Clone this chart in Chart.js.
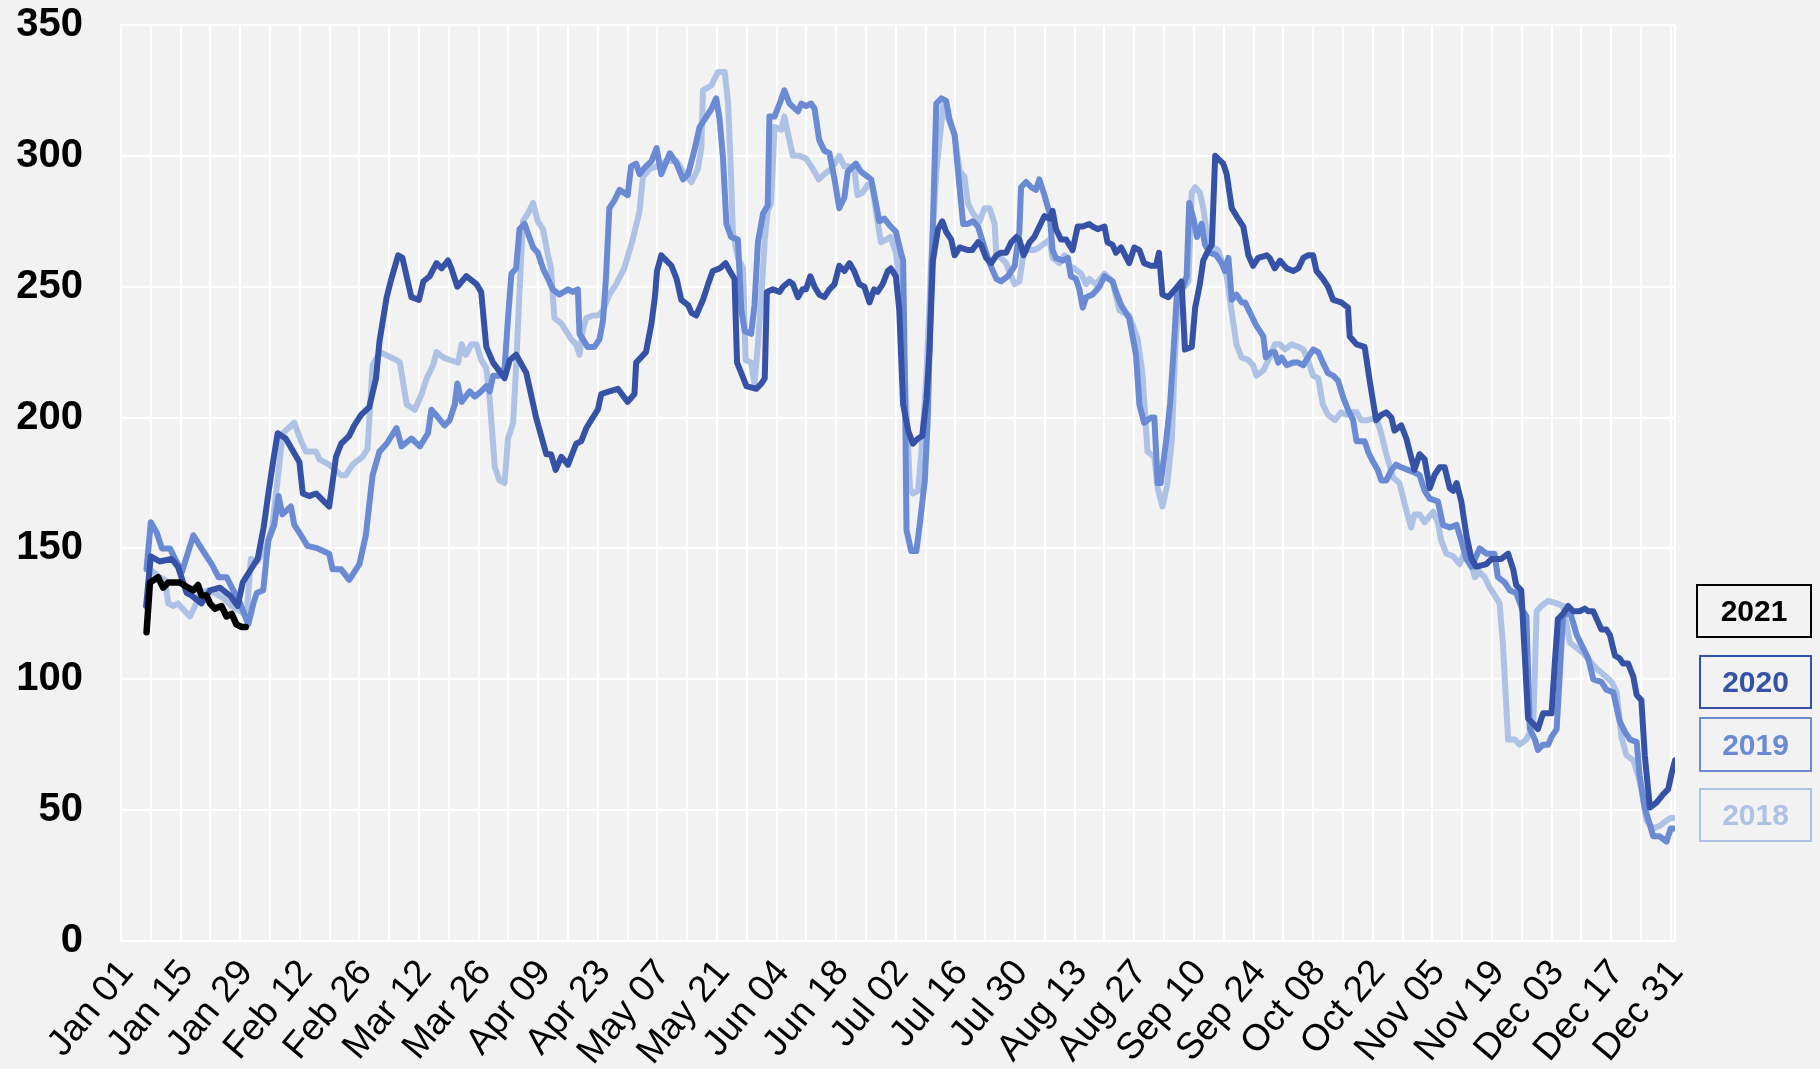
<!DOCTYPE html>
<html>
<head>
<meta charset="utf-8">
<script src="https://cdn.jsdelivr.net/npm/chart.js@4.4.0/dist/chart.umd.min.js"></script>
<style>
  html, body { margin: 0; padding: 0; background: #f2f2f2; }
  #wrap { position: relative; width: 1820px; height: 1069px; overflow: hidden; }
  #chart { position: absolute; left: 0; top: 0; }
  .leg { position: absolute; box-sizing: border-box; border: 2px solid; text-align: center;
         font: bold 30px "Liberation Sans", Arial, sans-serif; }
</style>
</head>
<body>
<div id="wrap">
  <canvas id="chart" width="1820" height="1069"></canvas>
  <div class="leg" style="left:1696px;top:584px;width:116px;height:54px;line-height:50px;color:#000;border-color:#000">2021</div>
  <div class="leg" style="left:1699px;top:655px;width:113px;height:54px;line-height:50px;color:#3552a6;border-color:#3552a6">2020</div>
  <div class="leg" style="left:1699px;top:717px;width:113px;height:55px;line-height:51px;color:#6a8ad4;border-color:#6a8ad4">2019</div>
  <div class="leg" style="left:1699px;top:788px;width:113px;height:54px;line-height:50px;color:#aec2e6;border-color:#aec2e6">2018</div>
</div>
<script>
// etiquetas del eje x (cada 14 dias desde Jan 01)
const tickLabels = ['Jan 01', 'Jan 15', 'Jan 29', 'Feb 12', 'Feb 26', 'Mar 12', 'Mar 26', 'Apr 09', 'Apr 23',
  'May 07', 'May 21', 'Jun 04', 'Jun 18', 'Jul 02', 'Jul 16', 'Jul 30', 'Aug 13', 'Aug 27', 'Sep 10',
  'Sep 24', 'Oct 08', 'Oct 22', 'Nov 05', 'Nov 19', 'Dec 03', 'Dec 17', 'Dec 31'];
const yTicks = [0, 50, 100, 150, 200, 250, 300, 350];

// series: [dia del año, valor]
const s2021 = [[6,118],[6.8,137],[8.7,139],[9.9,135],[11.1,137],[13.8,137],[15.8,135],[17,134],[18.1,136],[18.9,132],
  [20.1,132],[20.9,129],[22,127],[23.6,128],[24.8,124],[26,125],[27.1,121],[28.3,120],[29.3,120]];

const s2020 = [[5.9,128],[7,147],[9.1,145],[11.9,146],[13.4,143],[15.4,133],[16.6,132],[18.9,129],[20.9,134],[23.2,135],
  [25.6,132],[27.4,128],[28.6,137],[30.9,143],[32.1,146],[33.5,158],[34.7,172],[35.8,184],[36.8,194],[38.7,192],
  [41.9,183],[42.7,171],[44.2,170],[45.8,171],[48.9,166],[50.5,185],[51.7,190],[53.6,193],[54.8,197],[56.4,201],
  [58.3,204],[59.9,215],[60.7,229],[62.4,246],[63.5,253],[65.1,262],[66.1,261],[68.2,246],[70,245],[71,252],
  [72.5,254],[74.1,259],[75.3,257],[76.8,260],[77.6,257],[79,250],[81.1,254],[83.5,251],[84.6,248],[85.8,227],
  [87.4,221],[90.1,215],[91.3,222],[92.8,224],[95.2,217],[97.5,200],[99.9,186],[101,186],[102.1,180],[103.4,185],
  [105,182],[106.9,190],[108.1,191],[109.3,196],[110.8,200],[112,203],[112.8,209],[114.7,210],[116.7,211],[119,206],
  [120.6,209],[121,221],[123.3,225],[124.6,236],[125.4,246],[125.9,256],[126.9,262],[128.1,260],[129.3,258],[130.5,253],
  [131.6,245],[133.2,243],[134,240],[135.1,239],[136.7,245],[137.9,251],[139,256],[140.6,257],[142,259],[143,256],
  [144.1,253],[144.7,221],[145.7,217],[146.9,212],[149.2,211],[150.4,213],[151.2,215],[151.7,248],[153.1,249],[154.7,248],
  [155.5,250],[157,252],[157.8,251],[159,246],[160.1,249],[160.9,249],[161.9,254],[162.9,250],[164,247],[165.2,246],
  [166.4,249],[167.6,251],[168.7,258],[169.9,256],[171.1,259],[172.2,256],[173.4,251],[174.6,250],[175.8,244],[176.9,249],
  [177.7,248],[178.9,251],[180.1,256],[180.8,257],[182,254],[182.8,241],[183.7,205],[184.9,195],[186,190],[187.2,192],
  [188.2,193],[189.2,207],[189.9,226],[190.7,260],[191.9,272],[192.9,275],[193.8,271],[195,268],[195.8,262],[197,265],
  [198.9,264],[199.9,264],[201.3,267],[202,266],[203.2,261],[204.4,259],[205.6,262],[206.7,263],[207.9,263],[209.1,267],
  [210.3,269],[211,268],[212,262],[213.4,267],[214.5,269],[215.7,273],[216.9,277],[218.1,276],[218.8,279],[219.6,272],
  [220.8,268],[222,268],[223.5,264],[224.7,273],[225.9,273],[227.4,274],[228.2,273],[229.4,272],[231,273],[231.7,267],
  [232.9,266],[233.7,263],[234.9,265],[236.8,259],[238,265],[239.2,264],[240.3,259],[241.9,258],[243.1,258],[243.8,263],
  [244.6,247],[246,246],[247.6,249],[249.1,252],[249.9,226],[251.5,227],[252.3,242],[253.4,251],[254.2,260],[255.4,264],
  [256.2,266],[257,300],[258.9,297],[259.7,293],[260.9,280],[262,277],[263.6,273],[264.8,262],[265.9,258],[267.1,261],
  [269.1,262],[269.8,261],[271,257],[272.2,260],[273.8,257],[275.3,256],[276.5,257],[277.7,261],[278.8,262],[280,262],
  [280.8,256],[282.3,253],[283.5,250],[284.7,245],[286.6,244],[288.2,242],[288.6,231],[290.2,228],[292.1,227],[293.3,214],
  [294.8,199],[296,201],[297.2,202],[298.4,200],[299.1,195],[300.7,197],[301.9,192],[303,185],[303.8,180],[305,186],
  [306.2,184],[307.4,173],[308.5,178],[309.7,181],[310.9,181],[312.1,173],[312.9,172],[313.7,175],[314.8,168],[316,155],
  [317.2,146],[318.3,143],[320.7,144],[321.9,146],[323.1,146],[324.2,146],[325.8,148],[327,142],[327.7,136],[328.9,134],
  [330.5,85],[331.7,83],[332.8,81],[334,87],[334.8,87],[336,87],[336.8,107],[337.5,123],[338.7,125],[339.9,128],
  [341.1,126],[342.6,126],[343.8,127],[344.6,126],[345.8,126],[346.9,122],[347.7,119],[348.9,119],[349.7,117],[350.9,109],
  [352,108],[352.8,106],[354,106],[355.2,101],[356,94],[357.1,92],[357.9,71],[359.1,51],[360.7,53],[362.2,56],
  [363.4,58],[364.2,64],[365,69]];

const s2019 = [[6,142],[7,160],[8.4,156],[9.6,150],[11.5,150],[12.7,146],[14.3,141],[17,155],[19.3,149],[21.3,144],
  [22.9,139],[24.8,139],[26.4,134],[28,129],[29.9,121],[31.1,129],[31.9,133],[33.4,134],[34.6,153],[36,159],
  [37,170],[37.9,163],[39.9,166],[40.7,159],[41.9,156],[43.8,151],[46.2,150],[48.9,148],[49.7,142],[51.7,142],
  [53.6,138],[56,144],[57.5,155],[59.1,178],[60.7,187],[62.4,190],[64.7,196],[65.9,189],[68.2,192],[70.2,189],
  [72.1,194],[72.9,203],[74.5,200],[76,197],[77.2,199],[78.4,205],[79,213],[80,206],[81.9,210],[83.1,208],
  [84.6,210],[85.8,212],[86.6,210],[87.4,216],[88.9,216],[90.1,219],[90.9,238],[91.7,255],[92.8,257],[93.6,272],
  [94.8,274],[96.8,265],[97.9,263],[99.1,257],[100.3,253],[101.4,249],[103,247],[105,249],[106.1,248],[107.3,249],
  [107.7,232],[109.6,227],[111.2,227],[112.4,230],[113.2,237],[113.9,253],[114.7,280],[115.9,283],[117.1,287],[119,285],
  [119.8,296],[121,297],[121.8,293],[123.3,296],[124.6,298],[125.8,303],[126.9,293],[128.9,301],[130.5,297],[132,291],
  [133.2,293],[134.8,303],[135.9,311],[137.5,315],[138.7,318],[139.8,322],[140.6,314],[141.4,299],[142.2,274],[143.3,269],
  [144.9,268],[145.7,241],[146.5,233],[148,232],[148.8,243],[149.6,267],[150.8,278],[151.9,281],[152.3,315],[153.5,315],
  [154.7,320],[155.8,325],[157,320],[159,317],[159.8,320],[160.9,319],[162.1,320],[162.9,318],[164,306],[165.2,302],
  [166.4,301],[167.6,291],[168.7,280],[169.9,284],[170.7,294],[172.6,297],[173.8,294],[176.2,291],[177.3,282],[178.1,275],
  [179.3,276],[180.8,273],[182,271],[183.2,263],[183.7,260],[184.1,217],[184.5,157],[185.6,149],[186.8,149],[187.6,159],
  [188.8,176],[189.5,200],[190.3,251],[191.5,320],[192.7,322],[193.8,321],[194.6,314],[195.8,308],[196.6,294],[197.8,274],
  [198.9,274],[200.1,275],[201.3,273],[202.8,265],[204,259],[205.6,253],[206.7,252],[208.3,254],[209.9,258],[211,271],
  [211.4,288],[212.6,290],[213.8,288],[214.9,287],[215.7,291],[216.9,285],[218.1,278],[218.8,264],[219.6,261],[221.2,260],
  [222.4,261],[223.1,254],[224.3,253],[225.1,249],[225.9,242],[226.7,246],[228.2,247],[229.8,250],[231,254],[232.9,252],
  [233.7,248],[234.9,243],[236.8,238],[238.4,224],[239.2,205],[240.3,198],[241.9,200],[242.7,200],[243.5,175],[244.2,175],
  [245.4,190],[246.4,205],[247.2,225],[248,247],[248.8,250],[249.5,250],[250.3,254],[250.9,282],[251.9,276],[252.7,269],
  [253.8,274],[254.6,266],[255.8,263],[257.3,262],[258.5,259],[259.3,256],[260.1,261],[260.9,245],[262,247],[263.2,244],
  [264,244],[265.2,240],[266.7,235],[267.5,233],[268.3,231],[268.9,223],[270.2,225],[271,225],[271.8,221],[272.6,223],
  [273.8,220],[275.3,221],[276.5,221],[277.7,220],[278.8,223],[280,226],[281.2,225],[282.3,221],[283.5,217],[284.7,216],
  [285.9,214],[287,208],[288.2,203],[289.4,199],[290.2,191],[292.1,191],[292.9,187],[294.1,183],[295.2,180],[296,176],
  [297.2,176],[298.4,180],[299.5,182],[300.7,181],[302.3,180],[303.8,179],[305,178],[306.2,172],[307.4,169],[309.3,168],
  [310.5,159],[312.1,158],[313.7,159],[314.8,153],[316,146],[317.2,143],[319.1,150],[320.7,148],[322.6,148],[323.4,139],
  [325,137],[326.2,134],[327.7,133],[329.3,126],[330.1,124],[330.9,81],[332.1,77],[332.8,73],[334,75],[335.2,75],
  [336,78],[337.2,81],[338.7,124],[340.3,126],[341.9,117],[343.4,112],[344.6,108],[345.8,100],[347.7,99],[348.9,96],
  [350.5,95],[352,84],[353.2,80],[354.4,77],[356,76],[356.7,63],[357.9,51],[359.9,40],[361.4,40],[363,38],
  [364,43],[365,43]];

const s2018 = [[6,128],[6.8,142],[9.1,139],[10.3,138],[11.1,129],[12.3,128],[13.4,129],[15,126],[16.2,124],[17.4,128],
  [18.5,133],[20.5,134],[22,133],[24,131],[26,128],[28,126],[29.5,124],[30.5,146],[32,145],[34,150],
  [35.5,158],[36.7,175],[38,194],[40.7,198],[42.3,191],[43.4,187],[45.8,187],[46.6,184],[48.9,182],[51.7,178],
  [52.8,178],[54.4,182],[56.7,185],[57.9,188],[59.1,220],[60.8,225],[64.7,222],[65.5,221],[67.1,205],[69,203],
  [70.6,209],[71.8,215],[73.3,220],[74.1,225],[75.7,223],[77.2,222],[79.2,221],[80,228],[81,224],[82.3,228],
  [83.5,228],[84.6,222],[85.8,219],[86.6,207],[87.8,181],[88.9,176],[90.1,175],[90.9,192],[92.1,198],[92.8,219],
  [93.6,248],[94.4,275],[95.6,278],[96.8,282],[97.9,275],[99.1,272],[100.3,262],[101,257],[101.8,238],[103.4,236],
  [104.6,233],[105.7,230],[106.9,228],[107.7,224],[108.5,234],[109.3,238],[110.8,239],[112,239],[113.2,241],[114.7,247],
  [116.3,251],[118.2,257],[120.2,268],[121.8,279],[122.6,292],[124.2,295],[125.8,296],[128.1,298],[130.5,298],[132,294],
  [134,290],[135.5,295],[136.3,303],[136.7,325],[138.7,327],[140.2,332],[141.8,332],[142.6,320],[143.3,292],[143.7,271],
  [144.9,261],[146.1,257],[146.7,222],[148,221],[148.8,213],[149.6,228],[150.4,246],[151.2,268],[151.9,279],[152.7,282],
  [153.5,311],[155.1,310],[155.8,315],[156.6,309],[157.8,300],[159.4,300],[160.9,299],[162.5,295],[163.9,291],[165.2,293],
  [166.8,295],[168,298],[168.7,300],[169.9,296],[171.1,296],[172.3,294],[173,285],[174.2,286],[175.4,289],[176.5,288],
  [177.3,279],[178.5,267],[179.7,268],[180.8,269],[182,263],[183.2,248],[184.4,207],[185.3,173],[186,171],[187.2,172],
  [188,187],[189.2,217],[190.3,260],[191.5,294],[193.1,319],[194.6,313],[195.8,308],[197,294],[198.1,292],[198.9,282],
  [200.1,278],[201.7,275],[202.8,280],[204,280],[205.2,274],[205.6,262],[206.7,261],[207.9,259],[209.1,254],[209.9,251],
  [211,252],[212.2,265],[213.4,264],[214.5,264],[215.7,265],[217.3,267],[218.1,268],[218.8,261],[220.4,259],[221.6,262],
  [222.8,258],[223.9,257],[225.5,255],[226.7,251],[227.4,253],[229,251],[231,255],[232.9,252],[234.5,241],[236.8,239],
  [238.8,230],[239.9,217],[241.1,187],[242.7,185],[243.5,173],[244.6,166],[245.7,174],[246.8,191],[247.6,225],[248.4,247],
  [250.7,252],[251.5,286],[252.3,288],[253.4,286],[254.2,280],[255.4,266],[257.7,264],[258.5,260],[259.7,254],[260.9,240],
  [262,228],[263.2,223],[264.8,222],[265.9,220],[266.7,216],[268.3,218],[269.8,223],[271,228],[272.2,228],[273.4,226],
  [274.9,228],[276.5,227],[277.7,226],[278.8,222],[280,216],[281.2,215],[282.3,205],[283.5,201],[285.1,199],[286.6,202],
  [287.8,201],[289,202],[290.2,202],[291.3,199],[292.9,199],[294.8,200],[296,194],[297.2,186],[298.8,177],[300.3,175],
  [301.5,167],[303,158],[303.8,163],[305,163],[306.2,160],[308.2,164],[309.3,160],[310.1,153],[311.3,148],[312.9,147],
  [314.4,144],[316,150],[318,139],[319.1,141],[320.3,139],[321.5,135],[323.8,129],[324.6,113],[325.8,77],[327.4,77],
  [328.5,75],[330.1,77],[331.7,82],[332.5,126],[333.6,128],[335.2,130],[337.2,129],[338.7,128],[340.3,114],[341.9,112],
  [343.4,110],[345,107],[346.6,104],[348.1,102],[350.1,99],[351.3,95],[352.4,78],[353.6,71],[355.2,69],[356.4,63],
  [357.1,58],[358.3,46],[359.9,43],[361.4,44],[363,46],[364,47],[365,47]];

const colores = { '2021': '#000000', '2020': '#3552a6', '2019': '#6a8ad4', '2018': '#aec2e6' };

// convertir pares a puntos {x, y}
function aPuntos(serie) {
    return serie.map(p => ({ x: p[0], y: p[1] }));
}

function crearDataset(label, serie) {
    return {
        label: label,
        data: aPuntos(serie),
        borderColor: colores[label],
        borderWidth: label === '2021' ? 6.5 : 6,
        pointRadius: 0,
        tension: 0,
        fill: false,
        borderJoinStyle: 'round',
        borderCapStyle: 'round'
    };
}

Chart.defaults.font.family = '"Liberation Sans", Arial, sans-serif';
Chart.defaults.color = '#000';

const ctx = document.getElementById('chart').getContext('2d');
new Chart(ctx, {
    type: 'line',
    data: {
        // 2021 primero para que quede encima
        datasets: [
            crearDataset('2021', s2021),
            crearDataset('2020', s2020),
            crearDataset('2019', s2019),
            crearDataset('2018', s2018)
        ]
    },
    options: {
        responsive: false,
        animation: false,
        devicePixelRatio: 1,
        layout: { padding: { top: 25, right: 145, bottom: 0, left: 0 } },
        plugins: { legend: { display: false }, tooltip: { enabled: false } },
        scales: {
            x: {
                type: 'linear',
                min: 0,
                max: 365,
                afterFit: function (scale) {
                    scale.height = 128;
                    scale.paddingLeft = 0;
                    scale.paddingRight = 0;
                },
                afterBuildTicks: function (scale) {
                    const t = [];
                    for (let d = 0; d <= 364; d += 7) t.push({ value: d });
                    t.push({ value: 365 });
                    scale.ticks = t;
                },
                grid: { color: '#ffffff', lineWidth: 2, drawTicks: false },
                border: { display: false },
                ticks: {
                    autoSkip: false,
                    minRotation: 50,
                    maxRotation: 50,
                    padding: 11,
                    labelOffset: 6,
                    font: { size: 37 },
                    color: '#000',
                    callback: function (v) {
                        return (v % 14 === 0 && v <= 364) ? tickLabels[v / 14] : '';
                    }
                }
            },
            y: {
                min: 0,
                max: 350,
                afterFit: function (scale) {
                    scale.width = 121;
                    scale.paddingTop = 0;
                    scale.paddingBottom = 0;
                },
                afterBuildTicks: function (scale) {
                    scale.ticks = yTicks.map(v => ({ value: v }));
                },
                grid: { color: '#ffffff', lineWidth: 2, drawTicks: false },
                border: { display: false },
                ticks: {
                    padding: 38,
                    font: { size: 40, weight: 'bold' },
                    color: '#000'
                }
            }
        }
    }
});
</script>
</body>
</html>
